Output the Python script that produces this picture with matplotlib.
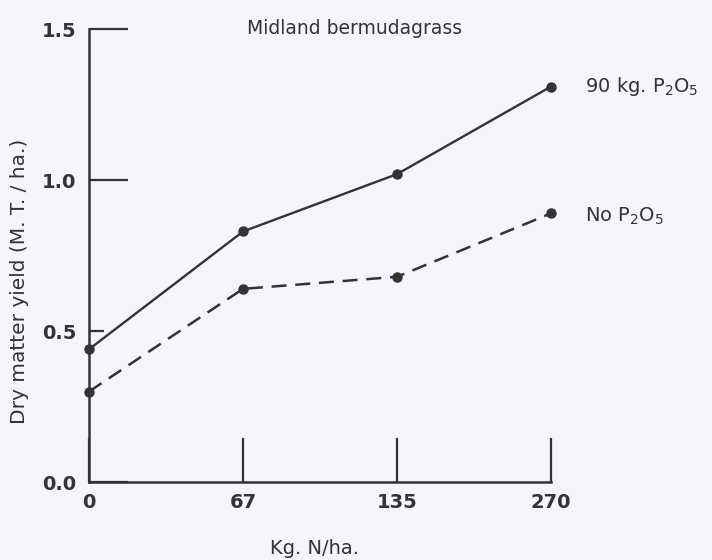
import numpy as np
import matplotlib.pyplot as plt

n_rates = ["0", "67", "135", "270"]
yield_90p = [0.44, 0.83, 1.02, 1.31]
yield_nop = [0.30, 0.64, 0.68, 0.89]
y_ticks = [0.0, 0.5, 1.0, 1.5]

ink = "#333333"
bg = "#f4f5fa"

fig = plt.figure(figsize=(7.12, 5.6), dpi=100, facecolor=bg)
ax = fig.add_axes([0.125, 0.139, 0.649, 0.809], facecolor=bg)

x = np.arange(len(n_rates))
ax.plot(x, yield_90p, color=ink, lw=1.7, marker="o", ms=6.5, clip_on=False)
ax.plot(x, yield_nop, color=ink, lw=1.8, ls=(0, (6, 3.5)), marker="o", ms=6.5,
        clip_on=False)

tick_font = dict(fontsize=14, fontweight="bold", color=ink)

ax.set_xlim(0, 3)
ax.set_ylim(0, 1.5)
ax.set_xticks(x)
ax.set_xticklabels(n_rates, **tick_font)
ax.set_yticks(y_ticks)
ax.set_yticklabels(["%.1f" % v for v in y_ticks], **tick_font)

for s in ["top", "right"]:
    ax.spines[s].set_visible(False)
for s in ["left", "bottom"]:
    ax.spines[s].set_color(ink)
    ax.spines[s].set_linewidth(1.8)

ax.tick_params(axis="y", direction="in", length=28, width=1.6, color=ink,
               pad=9)
ax.tick_params(axis="x", direction="in", length=32, width=1.6, color=ink,
               pad=8)
# the 0.5 tick is drawn short
ax.yaxis.get_major_ticks()[1].tick1line.set_markersize(11)

ax.text(3.22, yield_90p[-1], "90 kg. P$_2$O$_5$", fontsize=14, color=ink,
        va="center", ha="left", clip_on=False)
ax.text(3.22, yield_nop[-1] - 0.01, "No P$_2$O$_5$", fontsize=14, color=ink,
        va="center", ha="left", clip_on=False)

fig.text(355 / 712, 1 - 28 / 560, "Midland bermudagrass", fontsize=13.5,
         color=ink, ha="center", va="center")
fig.text(314 / 712, 1 - 548 / 560, "Kg. N/ha.", fontsize=14, color=ink,
         ha="center", va="center")
fig.text(20 / 712, 1 - 281 / 560, "Dry matter yield (M. T. / ha.)",
         fontsize=14.5, color=ink, ha="center", va="center", rotation=90)

fig.savefig("out.png", dpi=100, facecolor=bg)
